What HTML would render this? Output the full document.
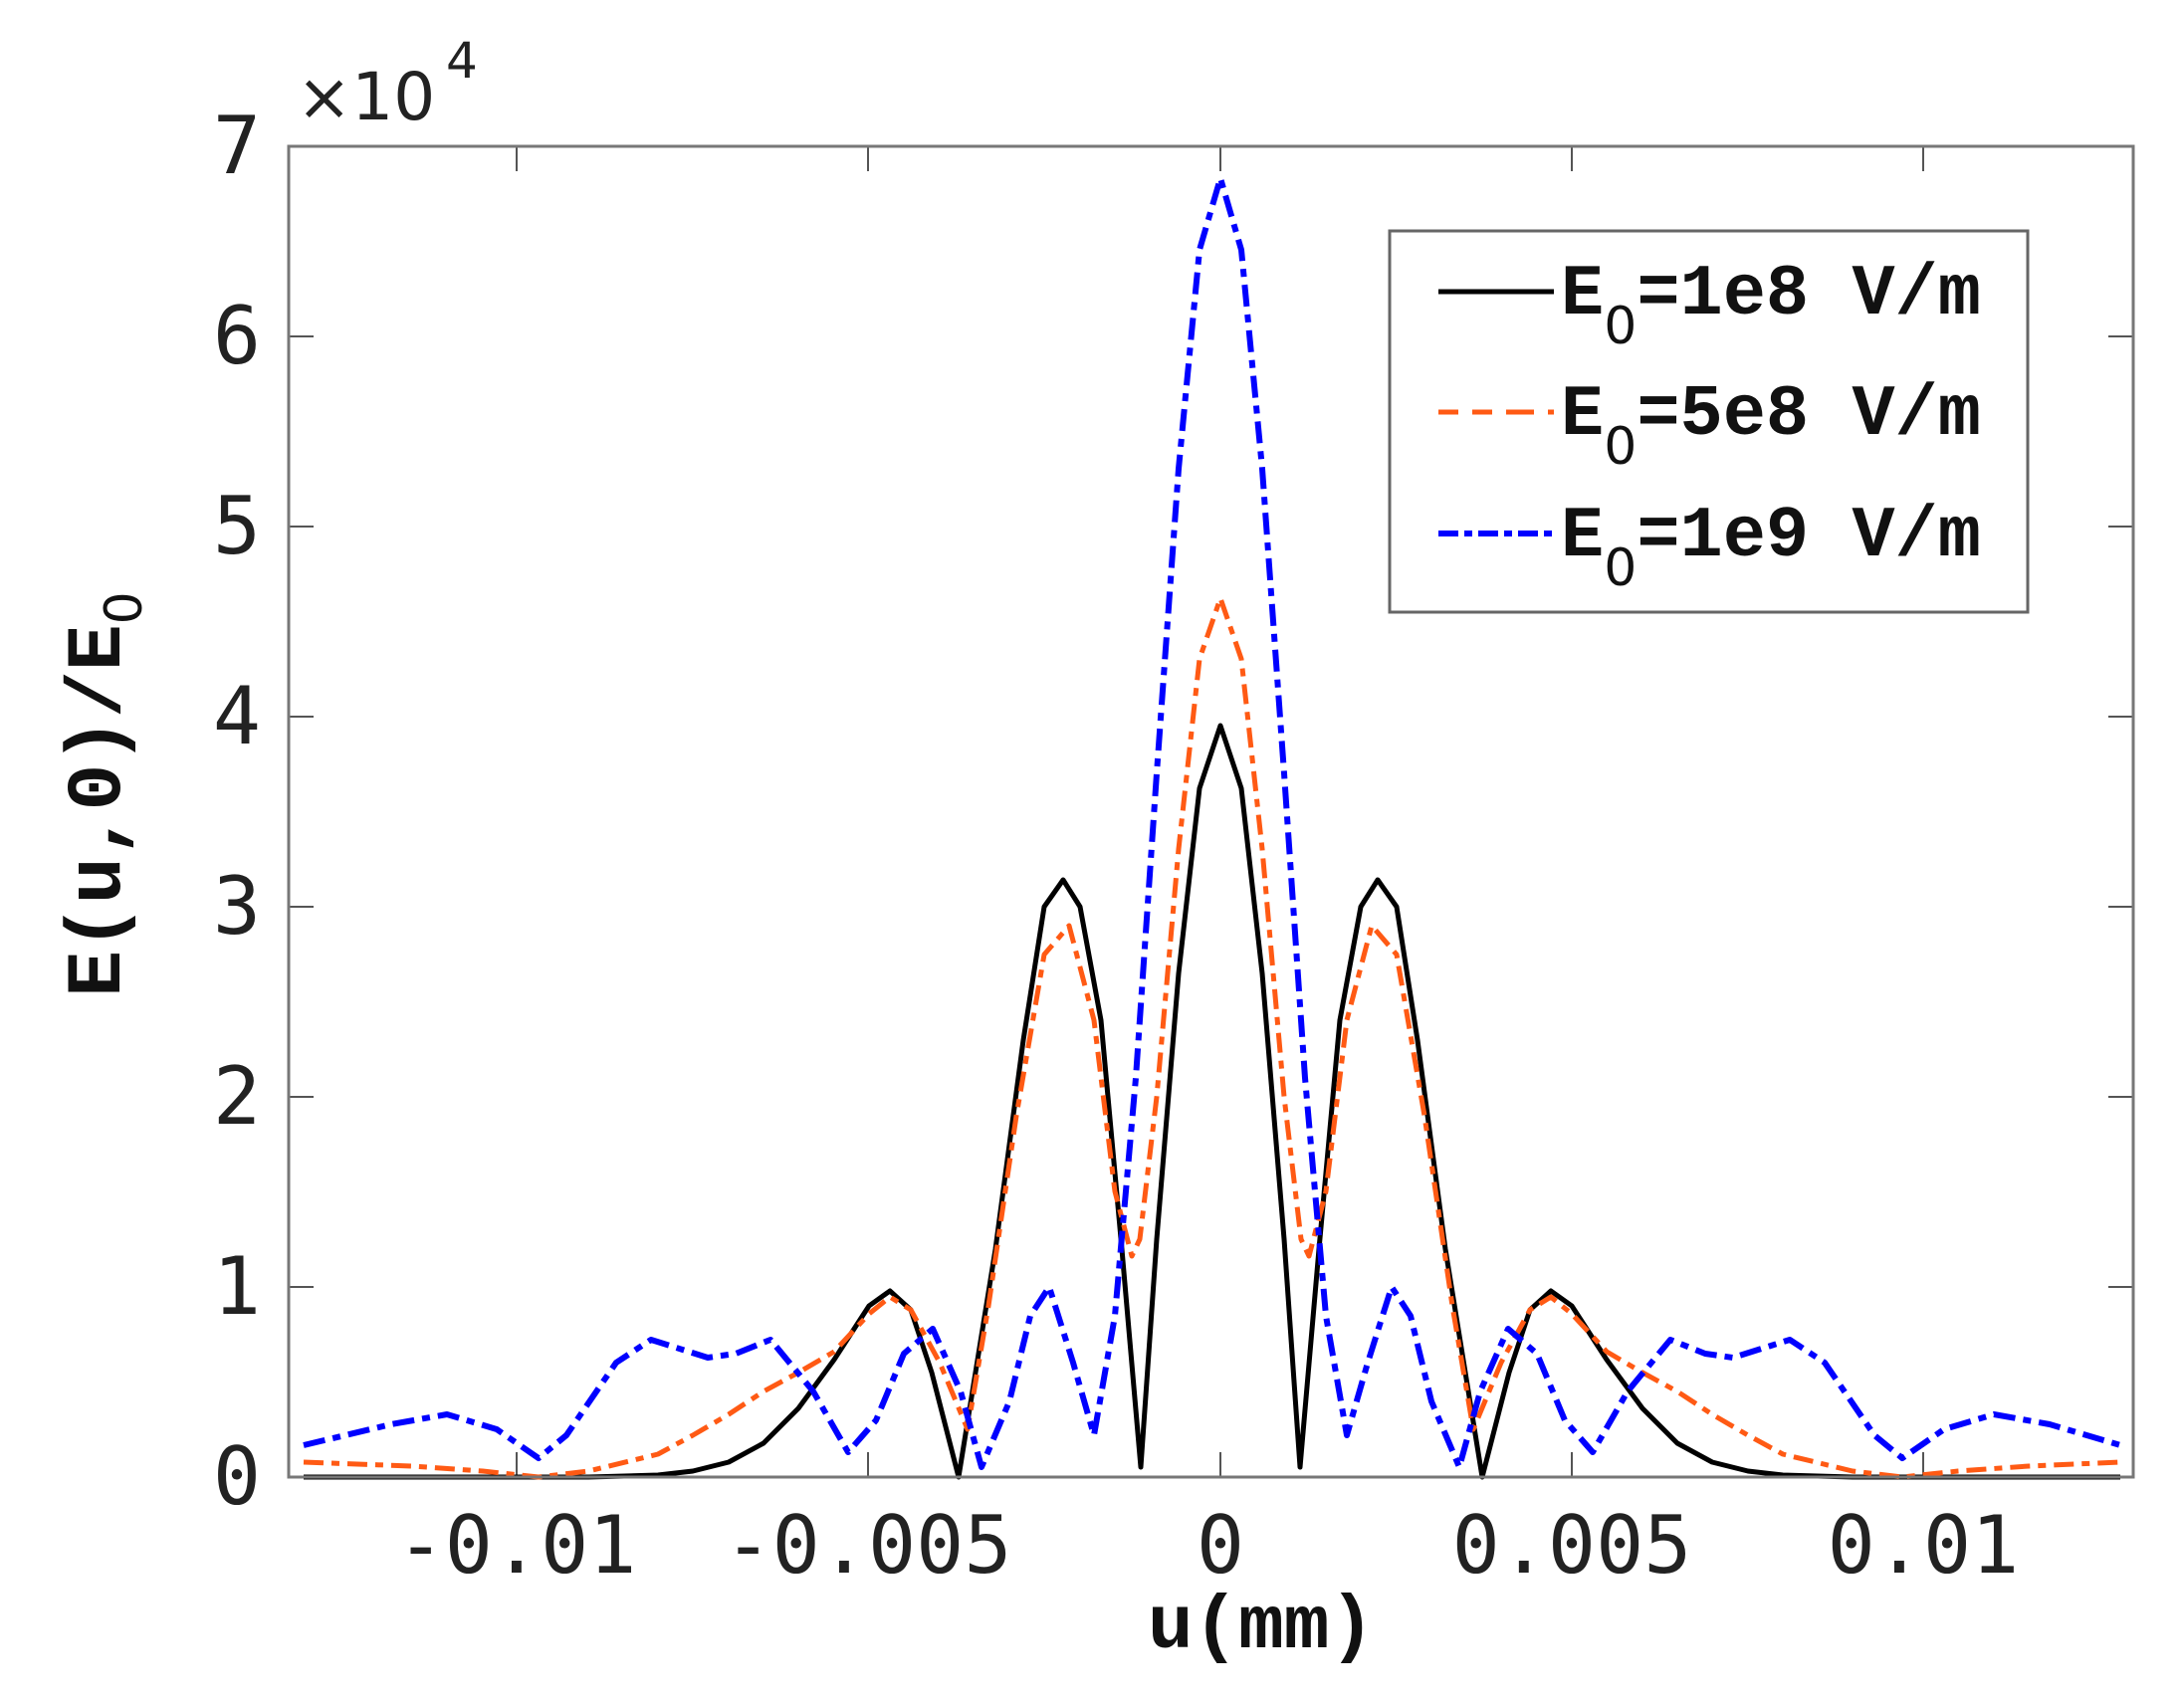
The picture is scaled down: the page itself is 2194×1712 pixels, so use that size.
<!DOCTYPE html>
<html><head><meta charset="utf-8"><style>
html,body{margin:0;padding:0;background:#fff;}
svg{display:block;}
.tk{font-family:"DejaVu Sans Mono","Liberation Mono",monospace;font-size:80px;fill:#222;}
.lb{font-family:"Liberation Mono",monospace;font-weight:bold;fill:#111;}
</style></head><body>
<svg width="2194" height="1712" viewBox="0 0 2194 1712" xmlns="http://www.w3.org/2000/svg">
<rect x="0" y="0" width="2194" height="1712" fill="#fff"/>
<g stroke="#555" stroke-width="2">
<line x1="519" y1="1484" x2="519" y2="1459"/><line x1="872" y1="1484" x2="872" y2="1459"/><line x1="1226" y1="1484" x2="1226" y2="1459"/><line x1="1579" y1="1484" x2="1579" y2="1459"/><line x1="1932" y1="1484" x2="1932" y2="1459"/>
<line x1="519" y1="147" x2="519" y2="172"/><line x1="872" y1="147" x2="872" y2="172"/><line x1="1226" y1="147" x2="1226" y2="172"/><line x1="1579" y1="147" x2="1579" y2="172"/><line x1="1932" y1="147" x2="1932" y2="172"/>
<line x1="290" y1="1293" x2="315" y2="1293"/><line x1="290" y1="1102" x2="315" y2="1102"/><line x1="290" y1="911" x2="315" y2="911"/><line x1="290" y1="720" x2="315" y2="720"/><line x1="290" y1="529" x2="315" y2="529"/><line x1="290" y1="338" x2="315" y2="338"/>
<line x1="2143" y1="1293" x2="2118" y2="1293"/><line x1="2143" y1="1102" x2="2118" y2="1102"/><line x1="2143" y1="911" x2="2118" y2="911"/><line x1="2143" y1="720" x2="2118" y2="720"/><line x1="2143" y1="529" x2="2118" y2="529"/><line x1="2143" y1="338" x2="2118" y2="338"/>
</g>
<g fill="none" stroke-linejoin="round">
<polyline stroke="#000" stroke-width="5" points="305,1484 591,1484 661,1482 696,1478 732,1469 767,1450 802,1415 838,1366 873,1312 894,1297 915,1316 936,1379 963,1484 1000,1255 1028,1045 1049,911 1068,884 1085,911 1106,1025 1127,1255 1146,1474 1162,1245 1184,978 1205,792 1226,729 1247,792 1268,978 1290,1245 1306,1474 1325,1255 1346,1025 1367,911 1384,884 1403,911 1424,1045 1452,1255 1489,1484 1516,1379 1537,1316 1558,1297 1579,1312 1614,1366 1650,1415 1685,1450 1720,1469 1756,1478 1791,1482 1861,1484 2130,1484"/>
<polyline stroke="#ff5a14" stroke-width="5" stroke-dasharray="20,8,8,8" points="305,1469 414,1473 485,1478 541,1484 591,1478 661,1461 696,1442 732,1421 767,1398 802,1379 838,1358 873,1320 894,1303 915,1316 944,1369 972,1436 993,1312 1021,1121 1049,959 1074,930 1099,1025 1120,1197 1137,1262 1145,1245 1162,1102 1184,853 1205,662 1226,601 1247,662 1268,853 1290,1102 1307,1245 1315,1262 1332,1197 1353,1025 1378,930 1403,959 1431,1121 1459,1312 1480,1436 1508,1369 1537,1316 1558,1303 1579,1320 1614,1358 1650,1379 1685,1398 1720,1421 1756,1442 1791,1461 1861,1478 1911,1484 1967,1478 2038,1473 2130,1469"/>
<polyline stroke="#0000ff" stroke-width="6" stroke-dasharray="22,8,8,8" points="305,1452 393,1431 449,1421 499,1436 541,1465 569,1442 619,1369 654,1346 711,1364 739,1360 774,1346 817,1398 852,1459 880,1427 908,1360 937,1335 965,1398 986,1474 1014,1408 1035,1322 1054,1293 1078,1369 1099,1442 1120,1322 1141,1083 1162,777 1184,471 1205,251 1226,179 1247,251 1268,471 1290,777 1311,1083 1332,1322 1353,1442 1374,1369 1398,1293 1417,1322 1438,1408 1466,1474 1487,1398 1515,1335 1544,1360 1572,1427 1600,1459 1635,1398 1678,1346 1713,1360 1741,1364 1798,1346 1833,1369 1883,1442 1911,1465 1953,1436 2003,1421 2059,1431 2130,1452"/>
</g>
<rect x="290" y="147" width="1853" height="1337" fill="none" stroke="#777" stroke-width="3"/>
<g class="tk" text-anchor="end">
<text x="262" y="1511">0</text><text x="262" y="1320">1</text><text x="262" y="1129">2</text>
<text x="262" y="938">3</text><text x="262" y="747">4</text><text x="262" y="556">5</text>
<text x="262" y="365">6</text><text x="262" y="174">7</text>
</g>
<g class="tk" text-anchor="middle">
<text x="519" y="1580">-0.01</text><text x="872" y="1580">-0.005</text><text x="1226" y="1580">0</text>
<text x="1579" y="1580">0.005</text><text x="1932" y="1580">0.01</text>
</g>
<text x="298" y="120" style="font-family:'DejaVu Sans',sans-serif;font-size:66px;fill:#222">×10</text>
<text x="448" y="78" style="font-family:'DejaVu Sans',sans-serif;font-size:50px;fill:#222">4</text>
<text class="lb" x="1267" y="1655" text-anchor="middle" font-size="76">u(mm)</text>
<g transform="translate(120,798) rotate(-90)">
<text class="lb" x="0" y="0" text-anchor="middle" font-size="78">E(u,0)/E<tspan font-family="DejaVu Sans" font-weight="normal" font-size="52" dy="22">0</tspan></text>
</g>
<rect x="1396" y="232" width="641" height="383" fill="#fff" stroke="#666" stroke-width="3"/>
<line x1="1445" y1="293" x2="1561" y2="293" stroke="#000" stroke-width="5"/>
<line x1="1445" y1="414" x2="1561" y2="414" stroke="#ff5a14" stroke-width="5" stroke-dasharray="20,14,20,14,8,0"/>
<line x1="1445" y1="536" x2="1561" y2="536" stroke="#0000ff" stroke-width="6" stroke-dasharray="20,6,8,6"/>
<g class="lb" font-size="72">
<text x="1568" y="315">E<tspan font-family="DejaVu Sans" font-weight="normal" font-size="52" dy="30">0</tspan><tspan dy="-30">=1e8 V/m</tspan></text>
<text x="1568" y="436">E<tspan font-family="DejaVu Sans" font-weight="normal" font-size="52" dy="30">0</tspan><tspan dy="-30">=5e8 V/m</tspan></text>
<text x="1568" y="558">E<tspan font-family="DejaVu Sans" font-weight="normal" font-size="52" dy="30">0</tspan><tspan dy="-30">=1e9 V/m</tspan></text>
</g>
</svg>
</body></html>
